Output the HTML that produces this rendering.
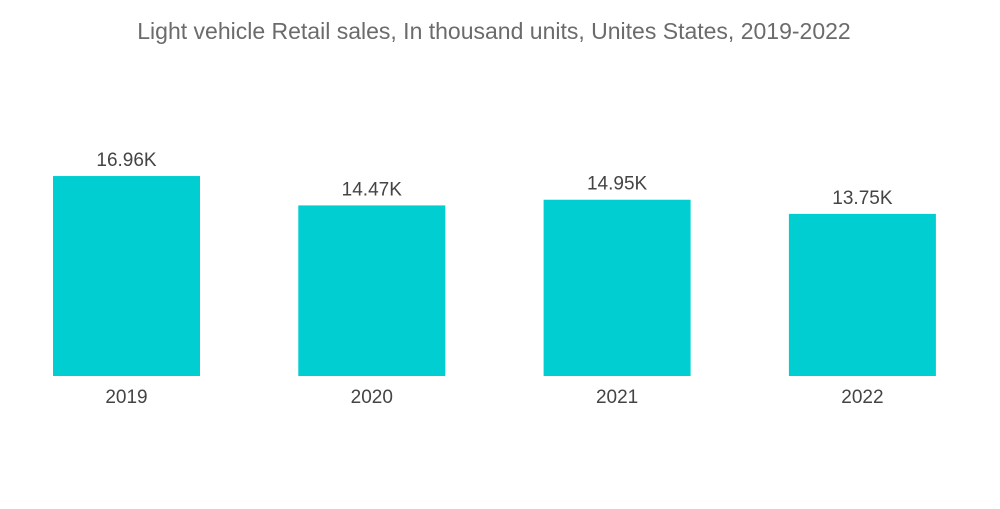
<!DOCTYPE html>
<html><head><meta charset="utf-8"><style>
body{margin:0;background:#fff;}
svg text{font-family:"Liberation Sans",sans-serif;}
</style></head><body>
<svg width="1000" height="504">
<text x="494" y="39" text-anchor="middle" font-size="23" fill="#6b6b6b">Light vehicle Retail sales, In thousand units, Unites States, 2019-2022</text>
<g id="bars"></g>
</svg>
<script>
const categories=["2019","2020","2021","2022"];
const values=[16.96,14.47,14.95,13.75];
const valueLabels=["16.96K","14.47K","14.95K","13.75K"];
const baseY=376, pxPerUnit=11.79, barW=147, x0=53, step=245.3;
const yScale=v=>baseY-v*pxPerUnit;
const g=document.getElementById('bars');
const NS="http://www.w3.org/2000/svg";
categories.forEach((c,i)=>{
  const x=x0+i*step, y=yScale(values[i]);
  const r=document.createElementNS(NS,'rect');
  r.setAttribute('x',x);r.setAttribute('y',y);r.setAttribute('width',barW);r.setAttribute('height',baseY-y);r.setAttribute('fill','#00ced1');
  
  
  g.appendChild(r);
  const t=document.createElementNS(NS,'text');
  t.setAttribute('x',x+barW/2);t.setAttribute('y',y-10);t.setAttribute('text-anchor','middle');t.setAttribute('font-size','19');t.setAttribute('fill','#444');
  t.textContent=valueLabels[i];
  
  
  g.appendChild(t);
  const l=document.createElementNS(NS,'text');
  l.setAttribute('x',x+barW/2);l.setAttribute('y',403);l.setAttribute('text-anchor','middle');l.setAttribute('font-size','19');l.setAttribute('fill','#444');
  l.textContent=c;
  
  
  g.appendChild(l);
});
</script>
</body></html>
